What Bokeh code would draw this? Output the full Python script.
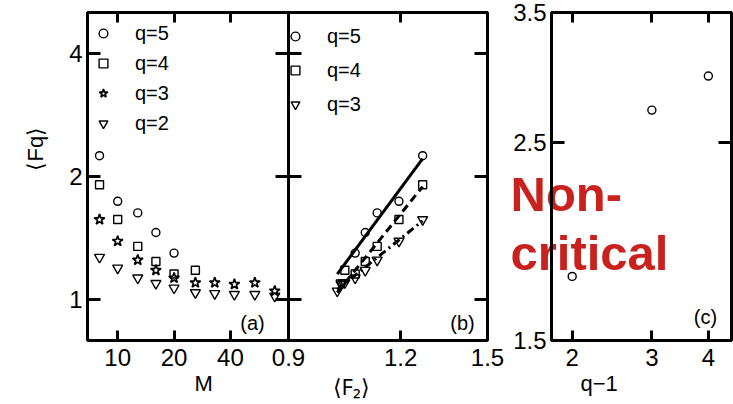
import numpy as np
from bokeh.plotting import figure
from bokeh.layouts import row
from bokeh.models import LogAxis, FixedTicker, Label, Legend, LegendItem, Title
from bokeh.embed import file_html
from bokeh.resources import INLINE

# ---------------- data ----------------
M = [8, 10, 12.8, 16, 20, 26, 33, 42, 54, 69]
F5 = [2.25, 1.74, 1.63, 1.46, 1.30]
F4 = [1.91, 1.57, 1.35, 1.24, 1.155, 1.18]
F3 = [1.57, 1.39, 1.25, 1.18, 1.13, 1.10, 1.10, 1.09, 1.10, 1.05]
F2 = [1.27, 1.195, 1.13, 1.096, 1.068, 1.04, 1.035, 1.03, 1.03, 1.02]
q_minus_1 = [2, 3, 4]
beta = [1.77, 2.72, 2.97]          # slopes for q = 3, 4, 5

M_ticks = [10, 20, 40]
F_ticks = [1, 2, 4]
F2_ticks = [0.9, 1.2, 1.5]
c_x_ticks = [2, 3, 4]
c_y_ticks = [1.5, 2.5, 3.5]

# ---------------- ranges ----------------
A_XR = (6.9, 81.7)
A_YR = (0.7945, 5.04)
B_XR = (0.9, 1.5)
C_XR = (1.8, 4.5)
C_YR = (1.5, 3.5)

FONT = "Liberation Sans"
RED = "#c9211e"


def lmap(lo, hi, p_lo, p_hi, p):
    return lo * (hi / lo) ** ((p - p_lo) / (p_hi - p_lo))


A_x = lambda px: lmap(*A_XR, 87, 288, px)
A_y = lambda py: lmap(*A_YR, 340, 11, py)
B_x = lambda px: lmap(*B_XR, 288, 487, px)
C_x = lambda px: lmap(*C_XR, 551, 731, px)
C_y = lambda py: lmap(*C_YR, 340, 12, py)


def make_fig(width, xr, yr, bl, br, bt):
    p = figure(width=width, height=404, x_axis_type="log", y_axis_type="log",
               x_range=xr, y_range=yr, min_border_left=bl, min_border_right=br,
               min_border_top=bt, min_border_bottom=64,
               toolbar_location=None, output_backend="svg")
    p.grid.visible = False
    p.outline_line_color = "black"
    p.outline_line_width = 3
    p.outline_line_alpha = 1
    return p


def style_axis(ax, ticks, tick_len, labels=True, standoff=6):
    ax.ticker = FixedTicker(ticks=ticks)
    ax.major_tick_in = tick_len
    ax.major_tick_out = 0
    ax.minor_tick_line_color = None
    ax.major_tick_line_width = 3
    ax.major_tick_line_color = "black"
    ax.axis_line_color = None
    ax.axis_label = None
    if labels:
        ax.major_label_overrides = {t: f"{t:g}" for t in ticks}
        ax.major_label_text_font = FONT
        ax.major_label_text_font_size = "24px"
        ax.major_label_text_color = "black"
        ax.major_label_standoff = standoff
    else:
        ax.major_label_overrides = {t: "" for t in ticks}
        ax.major_label_text_font_size = "1px"
        ax.major_label_text_alpha = 0
        ax.major_label_standoff = 0


def add_axes(p, xt, yt, xlab=True, ylab=True):
    style_axis(p.below[0], xt, 10, xlab, 8)
    style_axis(p.left[0], yt, 13, ylab, 5)
    top = LogAxis()
    right = LogAxis()
    p.add_layout(top, "above")
    p.add_layout(right, "right")
    style_axis(top, xt, 10, False)
    style_axis(right, yt, 13, False)


def text(p, x, y, s, size, align="center", baseline="middle", angle=0,
         color="black", style="normal"):
    p.add_layout(Label(x=x, y=y, text=s, text_font=FONT, text_font_size=size,
                       text_align=align, text_baseline=baseline, angle=angle,
                       text_color=color, text_font_style=style))


def axis_title(p, s, side, offset, standoff=0, font=FONT):
    p.add_layout(Title(text=s, align="left", offset=offset, standoff=standoff,
                       vertical_align="bottom", text_font=font,
                       text_font_size="22px", text_font_style="normal",
                       text_color="black"), side)


def legend(items, loc, spacing, standoff):
    return Legend(items=[LegendItem(label=l, renderers=[r]) for l, r in items],
                  location=loc, padding=0, margin=0, spacing=spacing,
                  glyph_width=22, glyph_height=24, label_height=24,
                  label_standoff=standoff, label_text_font=FONT,
                  label_text_font_size="20px", label_text_color="black",
                  border_line_color=None, background_fill_alpha=0)


mk = dict(fill_color=None, line_color="black", line_width=1.4)

# ---------------- panel (a) ----------------
pa = make_fig(300, A_XR, A_YR, 87, 12, 11)
add_axes(pa, M_ticks, F_ticks)
ra5 = pa.scatter(M[:len(F5)], F5, marker="circle", size=8, **mk)
ra4 = pa.scatter(M[:len(F4)], F4, marker="square", size=8, **mk)
ra3 = pa.scatter(M[:len(F3)], F3, marker="star", size=11, fill_color=None,
                 line_color="black", line_width=1.7)
ra2 = pa.scatter(M[:len(F2)], F2, marker="inverted_triangle", size=10, **mk)
pa.add_layout(legend([("q=5", ra5), ("q=4", ra4), ("q=3", ra3), ("q=2", ra2)],
                     (5, 205), 6, 21))
axis_title(pa, "M", "below", 107)
axis_title(pa, "⟨Fq⟩", "left", 170, standoff=38)
text(pa, A_x(252), A_y(322), "(a)", "20px")

# ---------------- panel (b) ----------------
pb = make_fig(252, B_XR, A_YR, 28, 25, 11)
pb.margin = (0, 0, 0, -40)
pb.border_fill_alpha = 0
add_axes(pb, F2_ticks, F_ticks, True, False)
style_axis(pb.above[0], [1.2], 10, False)

lnF2 = np.log(np.array(F2))
fit_x = np.array([min(F2), max(F2)])
dashes = ["8 4 2 4", "8 5", "solid"]
for b, series, dash in zip(beta, [F3, F4, F5], dashes):
    n = len(series)
    c = np.mean(np.log(np.array(series)) - b * lnF2[:n])
    fit_y = np.exp(c + b * np.log(fit_x))
    pb.line(fit_x, fit_y, line_color="black", line_width=3, line_dash=dash)

rb5 = pb.scatter(F2[:len(F5)], F5, marker="circle", size=8, **mk)
rb4 = pb.scatter(F2[:len(F4)], F4, marker="square", size=8, **mk)
rb3 = pb.scatter(F2[:len(F3)], F3, marker="inverted_triangle", size=10, **mk)
pb.add_layout(legend([("q=5", rb5), ("q=4", rb4), ("q=3", rb3)],
                     (-4, 224), 10, 21))
axis_title(pb, "⟨F₂⟩", "below", 44, font="Noto Sans")
text(pb, B_x(462), A_y(322), "(b)", "20px")

# ---------------- overlay text (drawn beneath panel c) ----------------
pd = figure(frame_width=233, frame_height=404, x_range=(500, 733),
            y_range=(404, 0), title=None,
            min_border_left=0, min_border_right=0, min_border_top=0,
            min_border_bottom=0, x_axis_location=None, y_axis_location=None,
            toolbar_location=None, output_backend="svg")
pd.margin = (0, 0, 0, -12)
pd.grid.visible = False
pd.outline_line_color = None
pd.background_fill_alpha = 0
pd.border_fill_alpha = 0
text(pd, 510, 181, "Non-", "49px", align="left", baseline="alphabetic",
     color=RED, style="bold")
text(pd, 510, 240, "critical", "49px", align="left", baseline="alphabetic",
     color=RED, style="bold")

# ---------------- panel (c) ----------------
pc = make_fig(243, C_XR, C_YR, 61, 2, 12)
pc.margin = (0, 0, 0, -243)
pc.border_fill_alpha = 0
pc.background_fill_alpha = 0
add_axes(pc, c_x_ticks, c_y_ticks)
pc.scatter(q_minus_1, beta, marker="circle", size=8, **mk)
axis_title(pc, "q−1", "below", 29)
text(pc, C_x(705), C_y(316), "(c)", "20px")

layout = row(pa, pb, pd, pc)
open("out.html", "w").write(file_html(layout, INLINE))
